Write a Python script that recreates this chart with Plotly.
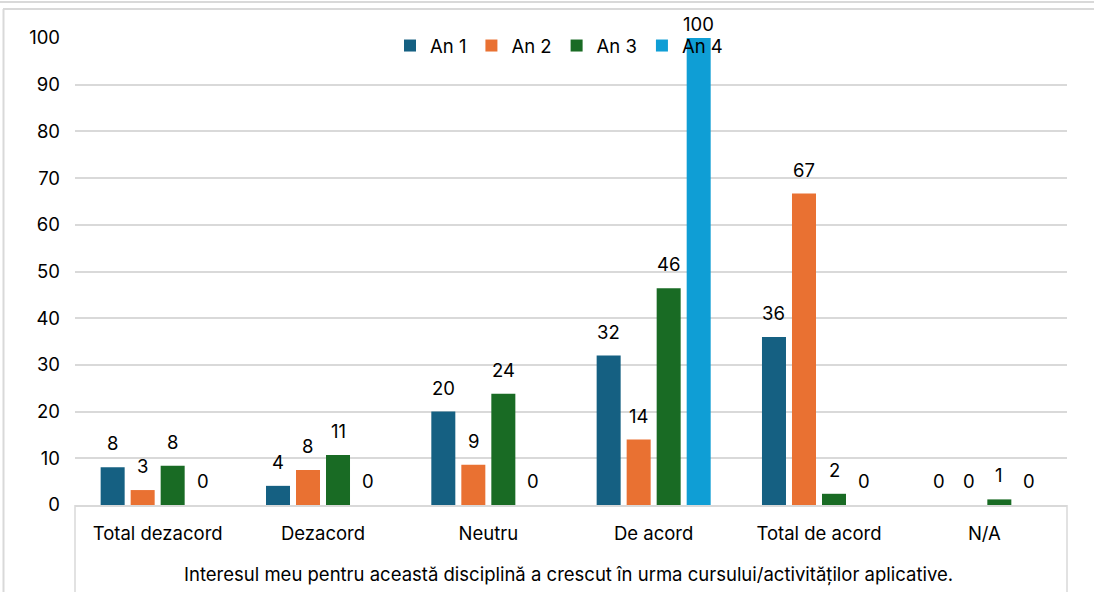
import plotly.graph_objects as go

categories = ["Total dezacord", "Dezacord", "Neutru", "De acord", "Total de acord", "N/A"]
series_names = ["An 1", "An 2", "An 3", "An 4"]
an1 = [8.1, 4.1, 20.0, 32.0, 36.0, 0.0]
an2 = [3.2, 7.5, 8.6, 14.0, 66.7, 0.0]
an3 = [8.4, 10.7, 23.8, 46.4, 2.4, 1.2]
an4 = [0.0, 0.0, 0.0, 100.0, 0.0, 0.0]
colors = ["#156082", "#E97132", "#196B24", "#0F9ED5"]
y_ticks = [0, 10, 20, 30, 40, 50, 60, 70, 80, 90, 100]
axis_title = "Interesul meu pentru această disciplină a crescut în urma cursului/activităților aplicative."

FONT = "Inter"
FS = 18.5
W, H = 1094, 592
L, R, T, B = 75, 1067, 38, 505
BARGAP = 0.274
YMAX = 100

def px(x):
    return (x - L) / (R - L)

def py(y):
    return (B - y) / (B - T)

fig = go.Figure()
all_series = [an1, an2, an3, an4]
for name, vals, col in zip(series_names, all_series, colors):
    fig.add_trace(go.Bar(
        x=categories, y=vals, name=name, marker_color=col,
        marker_line_width=0,
    ))

# data labels (Excel style: placed a bit above each bar)
cat_w = (R - L) / len(categories)
slot = cat_w * (1 - BARGAP) / len(all_series)
annotations = []
for i, vals in enumerate(all_series):
    shift = (i - (len(all_series) - 1) / 2) * slot
    for c, v in zip(categories, vals):
        annotations.append(dict(
            x=c, y=v, xref="x", yref="y", text=f"{v:.0f}", showarrow=False,
            xanchor="center", yanchor="bottom", xshift=shift,
            yshift=11 if v < YMAX else 1,
            font=dict(size=FS, family=FONT, color="#000000"),
        ))

annotations.append(dict(text=axis_title, xref="paper", yref="paper", x=px(568), y=py(574),
                        xanchor="center", yanchor="middle", showarrow=False,
                        font=dict(size=FS, family=FONT, color="#000000")))

grey = "#d9d9d9"
shapes = [
    dict(type="line", xref="paper", yref="paper", x0=px(0), x1=px(W), y0=py(2), y1=py(2), line=dict(color=grey, width=2)),
    dict(type="line", xref="paper", yref="paper", x0=px(3), x1=px(W), y0=py(9), y1=py(9), line=dict(color=grey, width=2)),
    dict(type="line", xref="paper", yref="paper", x0=px(3.5), x1=px(3.5), y0=py(9), y1=py(H), line=dict(color=grey, width=2)),
    dict(type="line", xref="paper", yref="paper", x0=0, x1=0, y0=0, y1=py(H), line=dict(color=grey, width=1.5)),
    dict(type="line", xref="paper", yref="paper", x0=1, x1=1, y0=0, y1=py(H), line=dict(color=grey, width=1.5)),
]

fig.update_layout(
    width=W, height=H,
    margin=dict(l=L, r=W - R, t=T, b=H - B),
    paper_bgcolor="white", plot_bgcolor="white",
    font=dict(family=FONT, size=FS, color="#000000"),
    barmode="group", bargap=BARGAP, bargroupgap=0.2,
    showlegend=True,
    legend=dict(orientation="h", x=px(390), xanchor="left", y=py(46), yanchor="middle",
                bgcolor="rgba(0,0,0,0)", font=dict(size=FS, family=FONT), itemwidth=30,
                traceorder="normal"),
    xaxis=dict(showline=True, linecolor=grey, linewidth=1.5, showgrid=False, ticks="",
               tickfont=dict(size=FS, family=FONT), fixedrange=True, ticklabelstandoff=11),
    yaxis=dict(range=[0, YMAX], tickvals=y_ticks, showgrid=True, gridcolor=grey, gridwidth=1.5,
               zeroline=False, showline=False, ticks="", tickfont=dict(size=FS, family=FONT),
               ticklabelstandoff=14),
    shapes=shapes,
    annotations=annotations,
)

fig.write_html("out.html", config={"displayModeBar": False},
               post_script="document.body.style.margin='0';document.body.style.overflow='hidden';")
